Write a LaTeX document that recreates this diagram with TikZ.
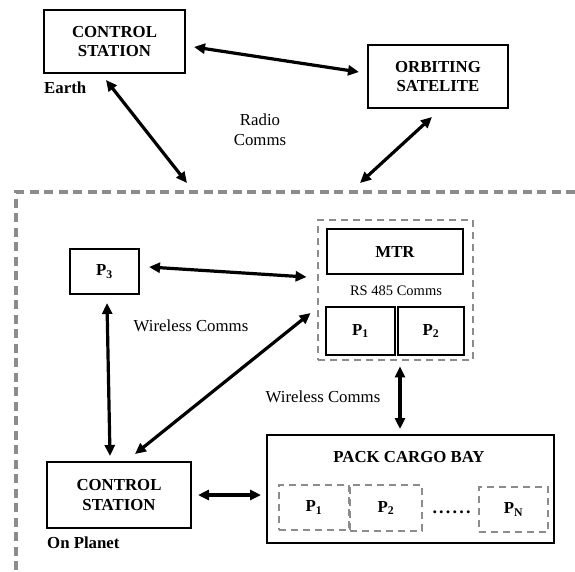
\documentclass[tikz,border=0pt]{standalone}
\usepackage{fontspec}
\setmainfont{Liberation Serif}
\usetikzlibrary{arrows.meta,calc}
\begin{document}
\begin{tikzpicture}[x=1pt,y=-1pt,
  box/.style={draw=black,line width=2pt,rectangle,inner sep=0pt,align=center,font=\fontsize{16.8}{19.5}\selectfont\bfseries},
  dbox/.style={draw=gray!90,line width=2.8pt,dash pattern=on 7pt off 5pt,rectangle,inner sep=0pt,align=center,font=\fontsize{16.8}{19.5}\selectfont\bfseries},
  lbl/.style={inner sep=0pt,align=center,font=\fontsize{16.8}{20}\selectfont},
  blbl/.style={inner sep=0pt,anchor=west,font=\fontsize{16.8}{20}\selectfont\bfseries},
  biarrow/.style={line width=3.2pt,{Triangle[length=11pt,width=10pt]}-{Triangle[length=11pt,width=10pt]}},
  outer/.style={draw=gray!90,line width=3.2pt,dash pattern=on 9pt off 5.5pt}
]
\useasboundingbox (0,0) rectangle (575,571);
\fill[white] (0,0) rectangle (575,571);

% outer planet boundary
\coordinate (ocorner) at (16,192);
\coordinate (oright) at (575,192);
\coordinate (obottom) at (16,571);
\draw[outer] (oright) -- (ocorner) -- (obottom);

% Earth side
\node[box,minimum width=141pt,minimum height=63pt] (cs1) at (114.5,41.5) {CONTROL\\STATION};
\node[blbl] (earth) at (44,88) {Earth};
\node[box,minimum width=140pt,minimum height=63pt] (sat) at (438,76.5) {ORBITING\\SATELITE};
\node[lbl] (radio) at (260,129.5) {Radio\\Comms};

\coordinate (e1) at (187,183);
\coordinate (e2) at (360,183);

% planet side
\node[box,minimum width=69pt,minimum height=45pt] (p3) at (104.5,271.5) {P\textsubscript{\textbf{3}}};
\node[dbox,minimum width=155pt,minimum height=140pt] (mtrg) at (395.5,290) {};
\node[box,minimum width=136pt,minimum height=45pt] (mtr) at (395,251.5) {MTR};
\node[lbl,font=\fontsize{14.5}{17}\selectfont] (rs) at (396,291) {RS 485 Comms};
\node[box,minimum width=69pt,minimum height=48pt] (mp1) at (360.5,331) {P\textsubscript{\textbf{1}}};
\node[box,minimum width=66pt,minimum height=48pt] (mp2) at (431,331) {P\textsubscript{\textbf{2}}};
\node[lbl] (wl1) at (191,326) {Wireless Comms};
\node[lbl] (wl2) at (323,397) {Wireless Comms};

\node[box,minimum width=144pt,minimum height=66pt] (cs2) at (119,495) {CONTROL\\STATION};
\node[blbl] (onp) at (47,543) {On Planet};

\node[box,minimum width=287pt,minimum height=108pt] (cargo) at (410.5,489) {};
\node[lbl,font=\fontsize{16.8}{20}\selectfont\bfseries] (cbt) at (409,457) {PACK CARGO BAY};
\node[dbox,minimum width=70pt,minimum height=45pt] (cp1) at (314,507.5) {P\textsubscript{\textbf{1}}};
\node[dbox,minimum width=72pt,minimum height=46pt] (cp2) at (386,508) {P\textsubscript{\textbf{2}}};
\node[dbox,minimum width=69pt,minimum height=45pt] (cpn) at (513.5,509.5) {P\textsubscript{\textbf{N}}};
\node[lbl,font=\fontsize{18}{20}\selectfont\bfseries] (dots) at (451.5,512) {.\hspace{2.2pt}.\hspace{2.2pt}.\hspace{2.2pt}.\hspace{2.2pt}.\hspace{2.2pt}.};

% connectors
\draw[biarrow] ([shift={(8,5.5)}]cs1.east) -- ([shift={(-8,-4.5)}]sat.west);
\draw[biarrow] ([shift={(-8.5,6)}]cs1.south) -- (e1);
\draw[biarrow] ([shift={(-6,8)}]sat.south) -- (e2);
\draw[biarrow] ([shift={(9,-4.5)}]p3.east) -- ([shift={(-10,-13)}]mtrg.west);
\draw[biarrow] ([shift={(2.5,8)}]p3.south) -- ([shift={(-9,-5)}]cs2.north);
\draw[biarrow] ([shift={(-6,23)}]mtrg.west) -- ([shift={(16,-7)}]cs2.north);
\draw[biarrow] ([shift={(4.5,5)}]mtrg.south) -- ([shift={(-10.5,-5)}]cargo.north);
\draw[biarrow] ([shift={(6,0)}]cs2.east) -- ([shift={(-5,6)}]cargo.west);
\end{tikzpicture}
\end{document}
